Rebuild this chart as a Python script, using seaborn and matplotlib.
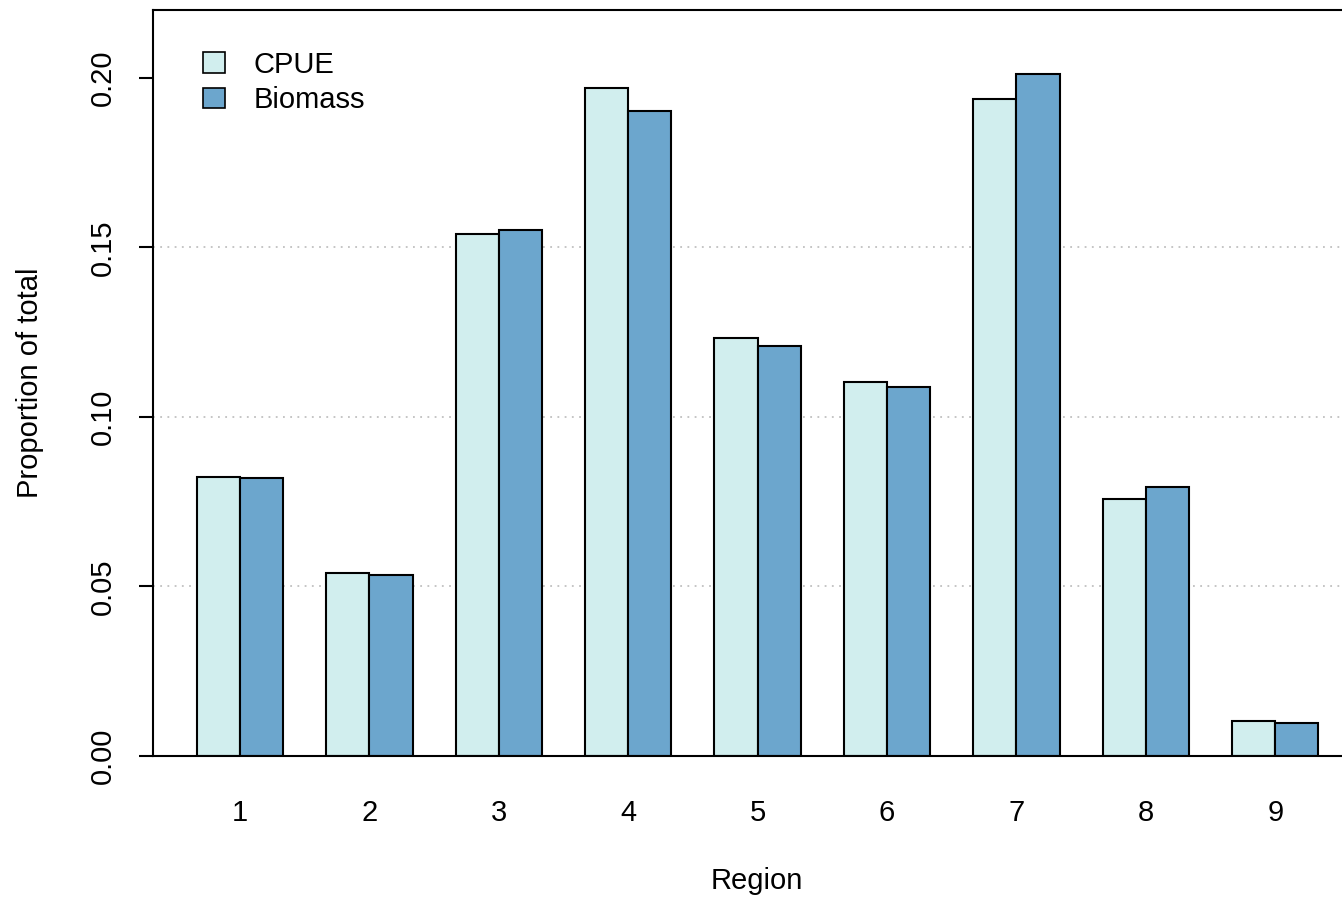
import matplotlib
matplotlib.use("Agg")
import matplotlib.pyplot as plt
import seaborn as sns
import pandas as pd
from matplotlib.patches import Patch

regions = ["1", "2", "3", "4", "5", "6", "7", "8", "9"]
cpue = [0.0822, 0.0539, 0.1540, 0.1971, 0.1234, 0.1102, 0.1938, 0.0757, 0.0103]
biomass = [0.0819, 0.0533, 0.1552, 0.1903, 0.1208, 0.1087, 0.2012, 0.0792, 0.0097]
series_names = ["CPUE", "Biomass"]
colors = ["#D1EEEE", "#6CA6CD"]
yticks = [0.00, 0.05, 0.10, 0.15, 0.20]
ytick_labels = ["0.00", "0.05", "0.10", "0.15", "0.20"]

df = pd.DataFrame({
    "Region": regions * 2,
    "Series": [series_names[0]] * len(regions) + [series_names[1]] * len(regions),
    "Value": cpue + biomass,
})

sns.set_theme(style="white")
plt.rcParams["font.family"] = ["Liberation Sans", "DejaVu Sans"]
plt.rcParams["text.color"] = "black"
plt.rcParams["xtick.color"] = "black"
plt.rcParams["ytick.color"] = "black"
plt.rcParams["axes.labelcolor"] = "black"

W, H = 1342, 900
fig = plt.figure(figsize=(W / 100, H / 100), dpi=100)
ax = fig.add_axes([153 / W, (H - 756) / H, (W - 153) / W, (756 - 10) / H])

for g in [0.05, 0.10, 0.15]:
    ax.axhline(g, color="#c0c0c0", linestyle=(0, (1, 3)), linewidth=1.3, zorder=0)

sns.barplot(data=df, x="Region", y="Value", hue="Series", hue_order=series_names,
            order=regions, palette=colors, width=2 / 3, edgecolor="black",
            linewidth=1.5, saturation=1, ax=ax, legend=False, zorder=2)

ax.set_xlim((153 - 240) / 129.4, (1342 - 240) / 129.4)
ax.set_ylim(0, 0.22)

for s in ["top", "left", "bottom"]:
    ax.spines[s].set_visible(True)
    ax.spines[s].set_color("black")
    ax.spines[s].set_linewidth(1.5)
ax.spines["right"].set_visible(False)

ax.set_yticks(yticks)
ax.set_yticklabels(ytick_labels, rotation=90, va="center", fontsize=21)
ax.tick_params(axis="y", direction="out", length=10, width=1.5, pad=16, left=True,
               color="black", labelcolor="black")
ax.tick_params(axis="x", length=0, pad=31, labelsize=21, labelcolor="black")
ax.set_xlabel("")
ax.set_ylabel("")

fig.text(757 / W, 1 - 881 / H, "Region", ha="center", va="center", fontsize=21, color="black")
fig.text(30 / W, 1 - 383 / H, "Proportion of total", ha="center", va="center",
         rotation=90, fontsize=21, color="black")

handles = [Patch(facecolor=c, edgecolor="black", linewidth=1.2) for c in colors]
leg = ax.legend(handles, series_names, loc="upper left", bbox_to_anchor=(0.032, 0.961),
                frameon=False, fontsize=21, handlelength=0.75, handleheight=0.7,
                handletextpad=1.0, labelspacing=0.25, borderaxespad=0)
for t in leg.get_texts():
    t.set_color("black")

fig.savefig("out.png", dpi=100)
